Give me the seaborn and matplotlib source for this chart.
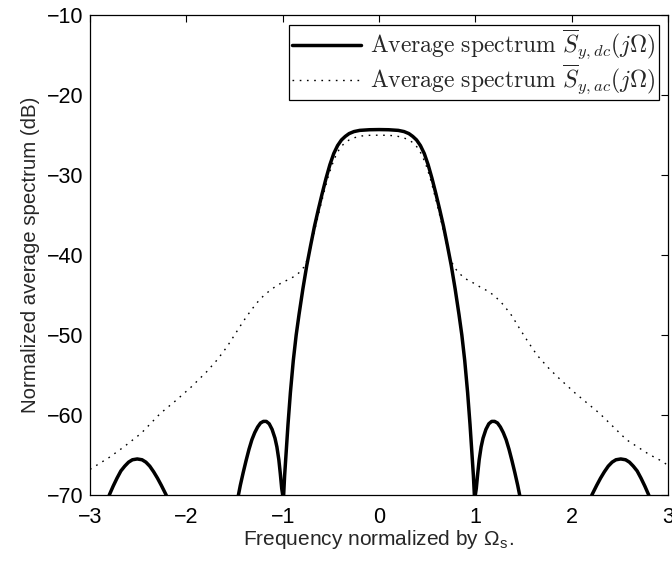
import matplotlib
matplotlib.use("Agg")
import matplotlib.pyplot as plt
import seaborn as sns

# ---------- data ----------
# solid curve (dc), left and right halves; values below -70 are clipped by the axes
x_dc_left = [-3.0, -2.90, -2.84, -2.80, -2.76, -2.72, -2.68, -2.64, -2.60, -2.56, -2.51, -2.46,
             -2.42, -2.38, -2.34, -2.30, -2.26, -2.21, -2.17, -1.80, -1.50, -1.46, -1.44, -1.41,
             -1.38, -1.35, -1.32, -1.29, -1.26, -1.23, -1.20, -1.17, -1.14, -1.11, -1.08, -1.06,
             -1.04, -1.025, -1.01, -1.0, -0.995, -0.99, -0.98, -0.965, -0.945, -0.92, -0.89,
             -0.86, -0.83, -0.79, -0.75, -0.71, -0.67, -0.63, -0.59, -0.55, -0.51, -0.47, -0.43,
             -0.39, -0.35, -0.31, -0.26, -0.20, -0.10, 0.0]
y_dc_left = [-80, -76, -72, -70, -68.9, -67.9, -67.0, -66.4, -65.9, -65.6, -65.5, -65.6,
             -65.9, -66.4, -67.1, -67.9, -68.8, -70, -72.5, -90, -72.5, -70, -68.8, -67.2,
             -65.7, -64.3, -63.1, -62.2, -61.5, -61.0, -60.8, -60.8, -61.1, -61.8, -62.9, -64.0,
             -65.6, -67.3, -69.2, -70, -80, -70, -67.6, -64.8, -61.2, -57.2, -53.2,
             -50.0, -47.4, -44.2, -41.3, -38.8, -36.4, -34.3, -32.3, -30.4, -28.7, -27.3, -26.3,
             -25.6, -25.15, -24.8, -24.55, -24.4, -24.32, -24.3]
x_dc_right = [0.10, 0.20, 0.26, 0.31, 0.35, 0.39, 0.43, 0.47, 0.51, 0.55, 0.59, 0.63, 0.67,
              0.71, 0.75, 0.79, 0.83, 0.86, 0.89, 0.92, 0.945, 0.965, 0.98, 0.99, 0.995, 1.0,
              1.01, 1.025, 1.04, 1.06, 1.08, 1.11, 1.14, 1.17, 1.20, 1.23, 1.26, 1.29, 1.32,
              1.35, 1.38, 1.41, 1.44, 1.46, 1.50, 1.80, 2.17, 2.21, 2.26, 2.30, 2.34, 2.38,
              2.42, 2.46, 2.51, 2.56, 2.60, 2.64, 2.68, 2.72, 2.76, 2.80, 2.84, 2.90, 3.0]
y_dc_right = [-24.32, -24.4, -24.55, -24.8, -25.15, -25.6, -26.3, -27.3, -28.7, -30.4, -32.3,
              -34.3, -36.4, -38.8, -41.3, -44.2, -47.4, -50.0, -53.2, -57.2, -61.2, -64.8,
              -67.6, -70, -80, -70, -69.2, -67.3, -65.6, -64.0, -62.9, -61.8, -61.1, -60.8,
              -60.8, -61.0, -61.5, -62.2, -63.1, -64.3, -65.7, -67.2, -68.8, -70, -72.5, -90,
              -72.5, -70, -68.8, -67.9, -67.1, -66.4, -65.9, -65.6, -65.5, -65.6, -65.9, -66.4,
              -67.0, -67.9, -68.9, -70, -72, -76, -80]

# dotted curve (ac)
x_ac_left = [-3.0, -2.96, -2.80, -2.65, -2.47, -2.27, -2.10, -1.95, -1.79, -1.68, -1.58, -1.50,
             -1.41, -1.34, -1.27, -1.20, -1.13, -1.06, -1.0, -0.93, -0.87, -0.82, -0.78, -0.75,
             -0.72, -0.69, -0.65, -0.61, -0.57, -0.53, -0.49, -0.45, -0.41, -0.36, -0.31, -0.25,
             -0.18, -0.10, 0.0]
y_ac_left = [-66.8, -66.5, -65.3, -64.0, -62.3, -59.8, -58.1, -56.5, -54.6, -53.1, -51.5, -50.0,
             -48.3, -47.1, -46.0, -45.1, -44.4, -43.8, -43.4, -43.0, -42.6, -42.1, -41.5, -40.7,
             -39.6, -38.0, -36.0, -34.0, -32.1, -30.3, -28.8, -27.6, -26.7, -26.0, -25.6, -25.3,
             -25.1, -25.02, -25.0]
x_ac_right = [0.10, 0.18, 0.25, 0.31, 0.36, 0.41, 0.45, 0.49, 0.53, 0.57, 0.61, 0.65, 0.69,
              0.72, 0.75, 0.78, 0.82, 0.87, 0.93, 1.0, 1.05, 1.13, 1.20, 1.29, 1.38, 1.46,
              1.55, 1.64, 1.75, 1.85, 2.04, 2.29, 2.57, 2.80, 2.94, 3.0]
y_ac_right = [-25.02, -25.1, -25.3, -25.6, -26.0, -26.7, -27.6, -28.8, -30.3, -32.1, -34.0,
              -36.0, -38.0, -39.6, -40.7, -41.5, -42.1, -42.7, -43.2, -43.6, -44.0, -44.5,
              -45.1, -46.2, -47.6, -49.2, -50.9, -52.5, -54.0, -55.2, -57.3, -59.8, -63.1,
              -64.9, -65.8, -66.3]

x_ticks = [-3, -2, -1, 0, 1, 2, 3]
y_ticks = [-70, -60, -50, -40, -30, -20, -10]

label_dc = r"$\mathrm{Average\ spectrum}\ \overline{S}_{y,dc}(j\Omega)$"
label_ac = r"$\mathrm{Average\ spectrum}\ \overline{S}_{y,ac}(j\Omega)$"

x_dc = x_dc_left + x_dc_right
y_dc = y_dc_left + y_dc_right
x_ac = x_ac_left + x_ac_right
y_ac = y_ac_left + y_ac_right

# ---------- style ----------
sns.set_style("white")
plt.rcParams['font.family'] = ['Liberation Sans', 'DejaVu Sans']
plt.rcParams['mathtext.fontset'] = 'cm'

fig = plt.figure(figsize=(6.72, 5.65), dpi=100)
ax = fig.add_axes([0.134, 0.124, 0.86, 0.849])

sns.lineplot(x=x_dc, y=y_dc, ax=ax, sort=False, estimator=None, color='black',
             linewidth=2.5, label=label_dc)
sns.lineplot(x=x_ac, y=y_ac, ax=ax, sort=False, estimator=None, color='black',
             linewidth=1.0, linestyle=(0, (1.2, 4)), label=label_ac)

ax.set_xlim(-3, 3)
ax.set_ylim(-70, -10)
ax.set_xticks(x_ticks)
ax.set_yticks(y_ticks)
ax.set_xticklabels([str(v).replace('-', '\u2212') for v in x_ticks])
ax.set_yticklabels([str(v).replace('-', '\u2212') for v in y_ticks])
ax.tick_params(direction='in', top=True, right=True, length=5, width=0.8,
               labelsize=15.5, colors='black')
ax.tick_params(axis='x', pad=9)
ax.tick_params(axis='y', pad=5)
for s in ax.spines.values():
    s.set_visible(True)
    s.set_color('black')
    s.set_linewidth(0.9)

ax.set_xlabel("Frequency normalized by \u03a9$_\\mathregular{s}$.", fontsize=15, labelpad=0)
ax.set_ylabel("Normalized average spectrum (dB)", fontsize=14.7, labelpad=5)

leg = ax.legend(loc='upper right', fontsize=17, frameon=True, fancybox=False,
                edgecolor='black', framealpha=1, handlelength=2.9, borderaxespad=0.4,
                borderpad=0.12, labelspacing=0.02, handletextpad=0.4)
leg.get_frame().set_linewidth(0.9)

fig.savefig("out.png", dpi=100)
